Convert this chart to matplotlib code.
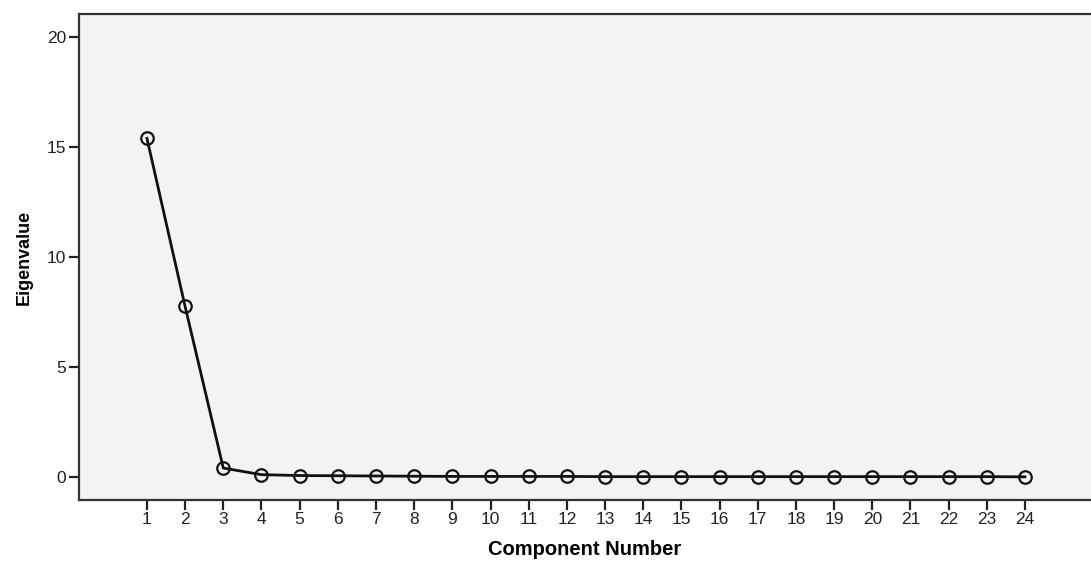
import numpy as np
import matplotlib.pyplot as plt

# scree plot data
components = list(range(1, 25))
eigenvalues = [15.4, 7.75, 0.4, 0.1, 0.06, 0.05, 0.04, 0.03, 0.02, 0.02, 0.02, 0.02,
               0.01, 0.01, 0.01, 0.01, 0.01, 0.01, 0.01, 0.01, 0.01, 0.01, 0.01, 0.0]
y_ticks = [0, 5, 10, 15, 20]

plt.rcParams['font.family'] = ['Liberation Sans', 'DejaVu Sans']

fig = plt.figure(figsize=(10.91, 5.63), dpi=100)
ax = fig.add_axes([0.0724, 0.112, 0.9276, 0.863])
ax.set_facecolor('#f3f3f3')

ax.plot(components, eigenvalues, color='#111111', linewidth=2,
        marker='o', markersize=9, fillstyle='none', markeredgewidth=1.6,
        markeredgecolor='#111111')

ax.set_xlim(-0.78, 25.73)
ax.set_ylim(-1.05, 21.05)
ax.set_xticks(components)
ax.set_yticks(y_ticks)
ax.tick_params(axis='both', direction='out', length=7, width=1.6,
               labelsize=12.5, colors='#222222', pad=2)

ax.spines['right'].set_visible(False)
for side in ['left', 'bottom', 'top']:
    ax.spines[side].set_linewidth(1.6)
    ax.spines[side].set_color('#333333')

ax.set_xlabel('Component Number', fontsize=14.5, fontweight='bold', labelpad=9)
ax.set_ylabel('Eigenvalue', fontsize=13, fontweight='bold', labelpad=10)

fig.savefig('out.png', dpi=100)
